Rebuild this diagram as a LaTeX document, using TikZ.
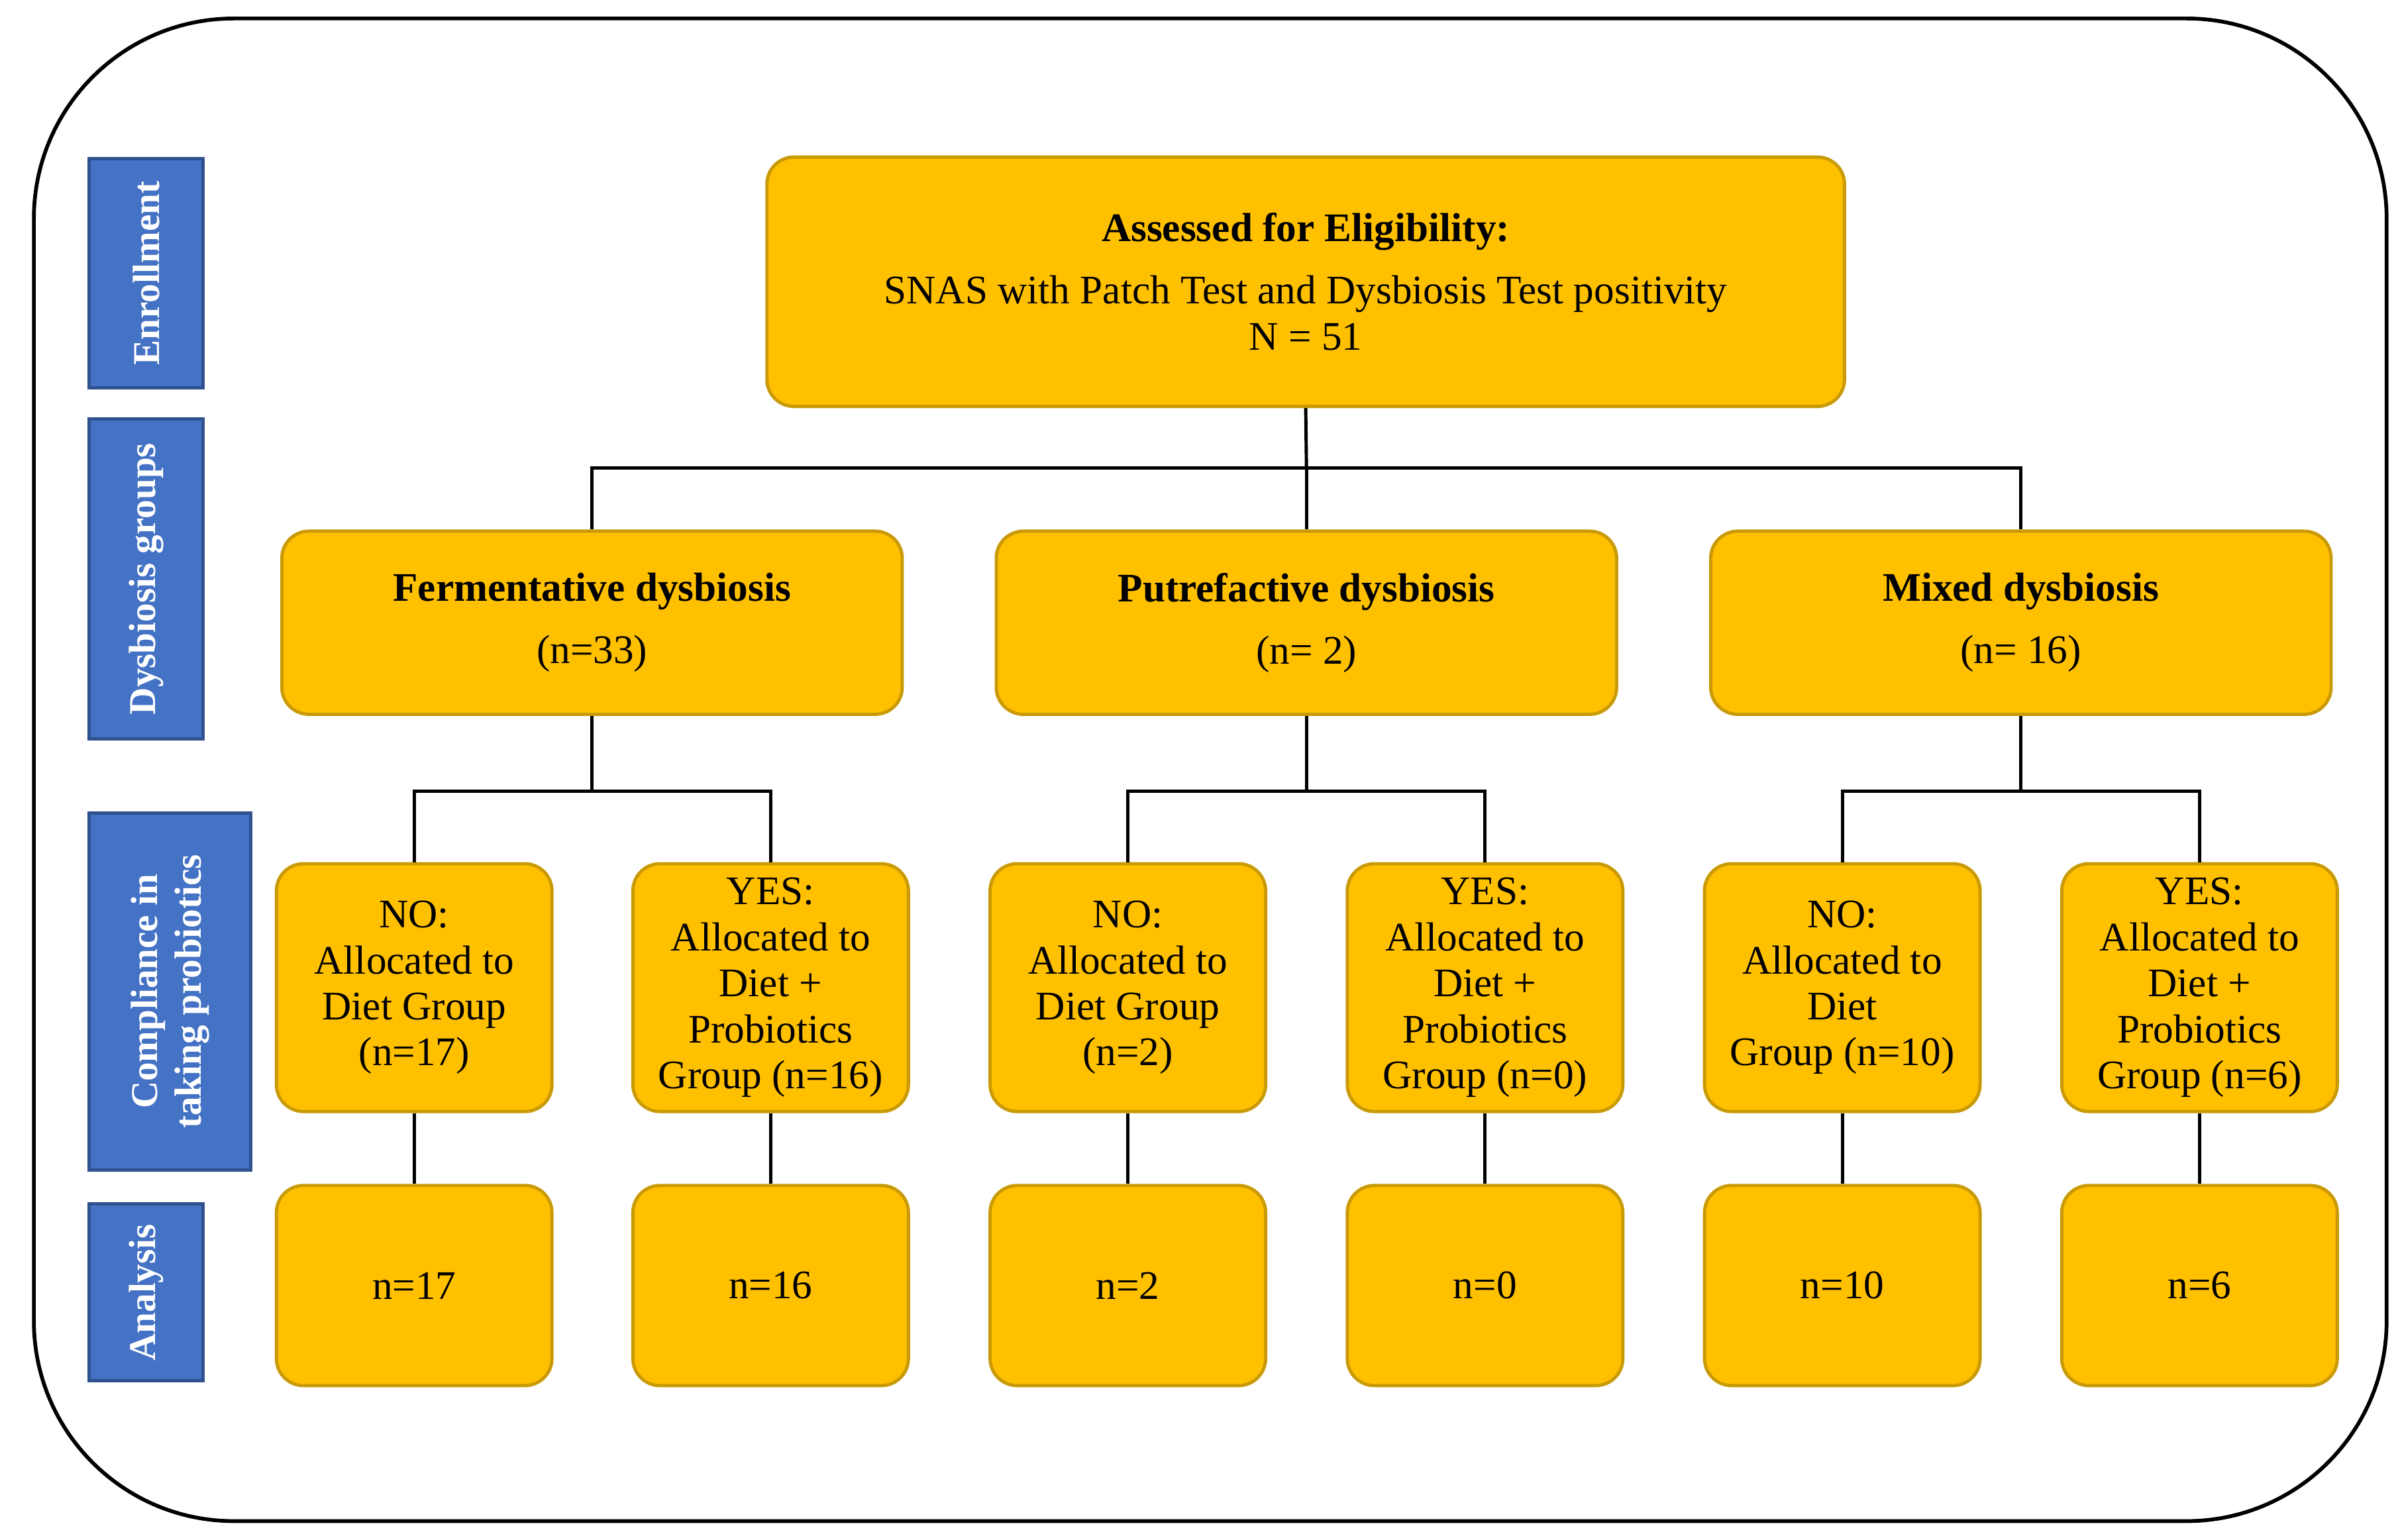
\documentclass[tikz,border=0pt]{standalone}
\usepackage{fontspec}
\setmainfont{Liberation Serif}
\usetikzlibrary{positioning}
\definecolor{boxfill}{HTML}{FFC000}
\definecolor{boxline}{HTML}{C99A06}
\definecolor{sidefill}{HTML}{4472C4}
\definecolor{sideline}{HTML}{2F528F}
\tikzset{
  box/.style={draw=boxline, line width=1.2pt, fill=boxfill, rounded corners=10pt, align=center, inner sep=2pt, font=\fontsize{15}{17}\selectfont},
  subbox/.style={box, minimum width=3.58cm, minimum height=3.22cm},
  resbox/.style={box, minimum width=3.58cm, minimum height=2.6cm},
  groupbox/.style={box, minimum width=8.06cm, minimum height=2.38cm},
  side/.style={draw=sideline, line width=1.2pt, fill=sidefill, text=white, rotate=90, align=center, inner sep=1pt, font=\bfseries\fontsize{14}{16}\selectfont},
  link/.style={draw=black, line width=1.2pt}
}
\begin{document}
\begin{tikzpicture}[x=0.02cm, y=-0.02cm]
  \useasboundingbox (0,0) rectangle (1560,1000);
  \draw[line width=1.4pt, rounded corners=2.6cm] (22,12) rectangle (1550,988);
  % side labels
  \node[side, minimum width=2.98cm, minimum height=1.48cm] (enrol) at (95,177.5) {Enrollment};
  \node[side, minimum width=4.16cm, minimum height=1.48cm] (dys) at (95,376) {Dysbiosis groups};
  \node[side, minimum width=4.64cm, minimum height=2.1cm] (comp) at (110.5,644) {Compliance in\\taking probiotics};
  \node[side, minimum width=2.3cm, minimum height=1.48cm] (anal) at (95,839.5) {Analysis};
  % top
  \node[box, minimum width=14cm, minimum height=3.24cm] (top) at (848,183) {\textbf{Assessed for Eligibility:}\\[6pt]SNAS with Patch Test and Dysbiosis Test positivity\\N = 51};
  % groups
  \node[groupbox] (ferm) at (384.5,404.5) {\textbf{Fermentative dysbiosis}\\[6pt](n=33)};
  \node[groupbox] (putr) at (848.5,404.5) {\textbf{Putrefactive dysbiosis}\\[6pt](n= 2)};
  \node[groupbox] (mix) at (1312.5,404.5) {\textbf{Mixed dysbiosis}\\[6pt](n= 16)};
  % compliance
  \node[subbox] (fno) at (269,641.5) {NO:\\Allocated to\\Diet Group\\(n=17)};
  \node[subbox] (fyes) at (500.5,641.5) {YES:\\Allocated to\\Diet +\\Probiotics\\Group (n=16)};
  \node[subbox] (pno) at (732.5,641.5) {NO:\\Allocated to\\Diet Group\\(n=2)};
  \node[subbox] (pyes) at (964.5,641.5) {YES:\\Allocated to\\Diet +\\Probiotics\\Group (n=0)};
  \node[subbox] (mno) at (1196.5,641.5) {NO:\\Allocated to\\Diet\\Group (n=10)};
  \node[subbox] (myes) at (1428.5,641.5) {YES:\\Allocated to\\Diet +\\Probiotics\\Group (n=6)};
  % analysis
  \node[resbox] (fnoa) at (269,835) {n=17};
  \node[resbox] (fyesa) at (500.5,835) {n=16};
  \node[resbox] (pnoa) at (732.5,835) {n=2};
  \node[resbox] (pyesa) at (964.5,835) {n=0};
  \node[resbox] (mnoa) at (1196.5,835) {n=10};
  \node[resbox] (myesa) at (1428.5,835) {n=6};
  % links
  \coordinate (tj) at (848.5,304);
  \path[link] (top.south) -- (tj);
  \foreach \g in {ferm,putr,mix}
    \path[link] (tj) -| (\g.north);
  \foreach \g/\a/\b in {ferm/fno/fyes, putr/pno/pyes, mix/mno/myes}{
    \coordinate (\g j) at ([yshift=-0.98cm]\g.south);
    \path[link] (\g.south) -- (\g j);
    \path[link] (\g j) -| (\a.north);
    \path[link] (\g j) -| (\b.north);
    \path[link] (\a.south) -- (\a a.north);
    \path[link] (\b.south) -- (\b a.north);
  }
\end{tikzpicture}
\end{document}
